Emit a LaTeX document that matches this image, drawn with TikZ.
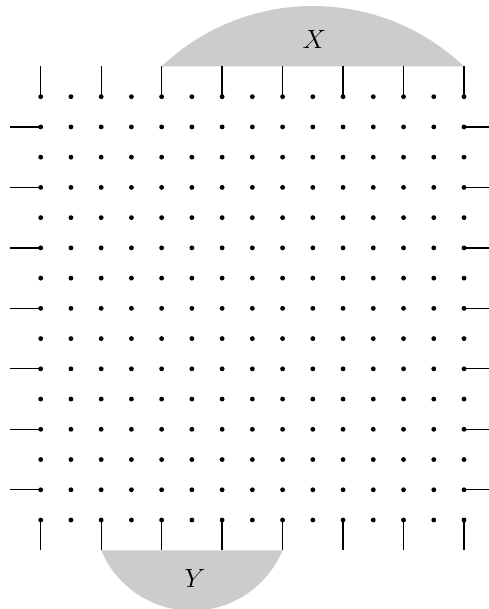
\documentclass[tikz,border=0pt]{standalone}
\begin{document}
\begin{tikzpicture}[x=1cm,y=1cm,
  dot/.style={circle,fill=black,inner sep=0pt,minimum size=0.16cm},
  lead/.style={line width=1.2pt},
  region/.style={fill=black!20},
  lab/.style={font=\fontsize{30}{36}\selectfont, inner sep=0pt}]
\useasboundingbox (-1.346,-2.943) rectangle (14.825,17.198);
\clip (-1.346,-2.943) rectangle (14.825,17.198);
% shaded regions
\fill[region] (4,15) arc[start angle=133.6, end angle=46.4, radius=7.25] -- cycle;
\fill[region] (2,-1) arc[start angle=202.62, end angle=337.38, radius=3.25] -- cycle;
\node[lab] (X) at (9.05,15.88) {$X$};
\node[lab] (Y) at (5.1,-1.92) {$Y$};
% grid of dots
\foreach \i in {0,...,14} {
  \foreach \j in {0,...,14} {
    \node[dot] (d-\i-\j) at (\i,\j) {};
  }
}
% top and bottom leads
\foreach \i in {0,2,...,14} {
  \coordinate (t\i) at (\i,15);
  \draw[lead] (t\i) -- (d-\i-14.center);
  \coordinate (b\i) at (\i,-1);
  \draw[lead] (b\i) -- (d-\i-0.center);
}
% left and right leads
\foreach \j in {1,3,...,13} {
  \coordinate (l\j) at (-1,\j);
  \draw[lead] (l\j) -- (d-0-\j.center);
  \coordinate (r\j) at (14.83,\j);
  \draw[lead] (d-14-\j.center) -- (r\j);
}
\end{tikzpicture}
\end{document}
